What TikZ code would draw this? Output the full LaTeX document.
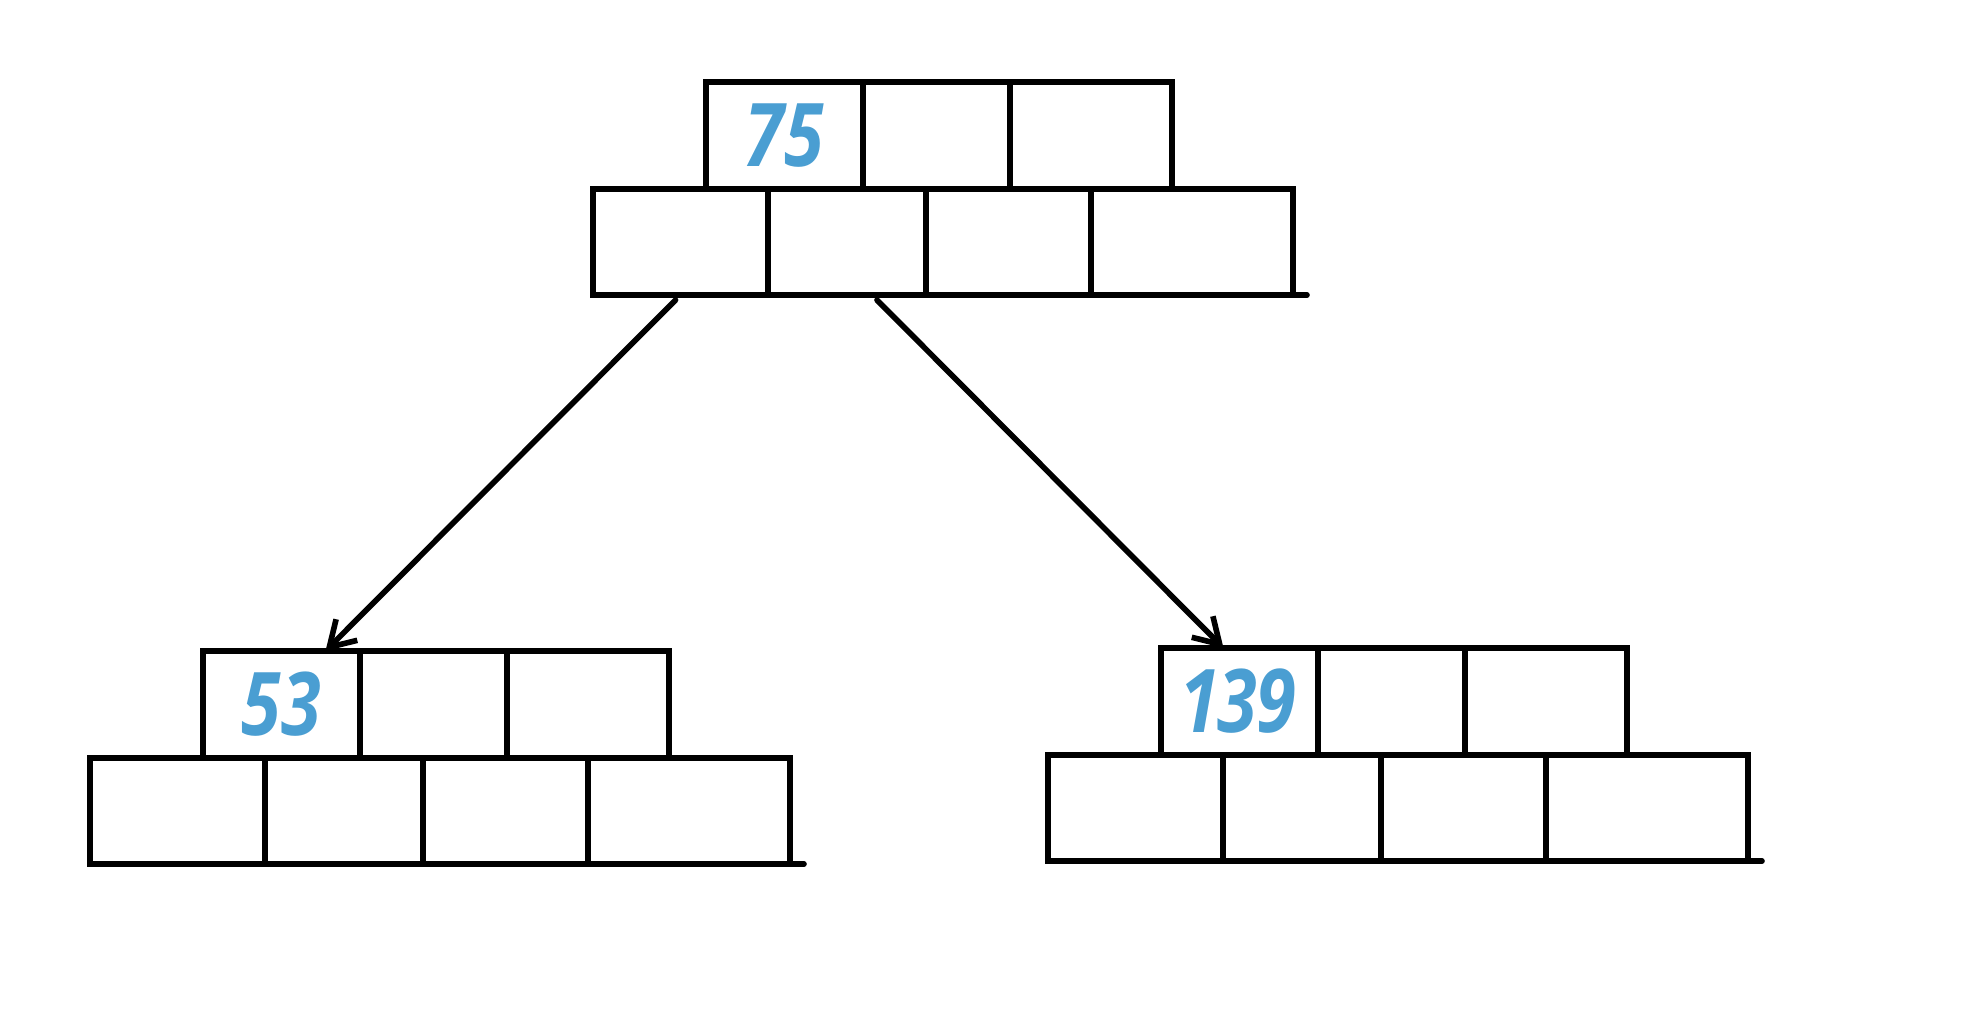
\documentclass[tikz,border=0pt]{standalone}
\usepackage{fontspec}
\setmainfont[Numbers=Proportional]{Open Sans}
\usetikzlibrary{positioning, arrows.meta}
\definecolor{keyblue}{RGB}{74,158,210}
\newcommand{\handnum}[1]{\scalebox{0.82}[1]{#1}}

\begin{document}
\begin{tikzpicture}[>={Straight Barb[length=7pt,width=8.5pt]}, line width=1.6pt, line cap=round, node distance=0pt,
    cell/.style={draw, rectangle, inner sep=0pt, outer sep=0pt, text=keyblue,
        font=\bfseries\itshape\fontsize{25}{25}\selectfont},
    key/.style={cell, minimum height=1.07cm},
    ptr/.style={cell, minimum height=1.06cm}]
    \useasboundingbox (0,0) rectangle (19.84,-10.32);

    % root
    \node[ptr, minimum width=1.75cm, anchor=north west] (rp1) at (5.93,-1.89) {};
    \node[ptr, minimum width=1.58cm, right=of rp1] (rp2) {};
    \node[ptr, minimum width=1.65cm, right=of rp2] (rp3) {};
    \node[ptr, minimum width=2.02cm, right=of rp3] (rp4) {};
    \node[key, minimum width=1.57cm, anchor=south west] (r1) at ([xshift=1.13cm]rp1.north west) {\handnum{75}};
    \node[key, minimum width=1.47cm, right=of r1] (r2) {};
    \node[key, minimum width=1.62cm, right=of r2] (r3) {};
    \draw (rp1.south west) -- ([xshift=0.14cm]rp4.south east);

    % left child
    \node[ptr, minimum width=1.75cm, anchor=north west] (ap1) at (0.90,-7.58) {};
    \node[ptr, minimum width=1.58cm, right=of ap1] (ap2) {};
    \node[ptr, minimum width=1.65cm, right=of ap2] (ap3) {};
    \node[ptr, minimum width=2.02cm, right=of ap3] (ap4) {};
    \node[key, minimum width=1.57cm, anchor=south west] (a1) at ([xshift=1.13cm]ap1.north west) {\handnum{53}};
    \node[key, minimum width=1.47cm, right=of a1] (a2) {};
    \node[key, minimum width=1.62cm, right=of a2] (a3) {};
    \draw (ap1.south west) -- ([xshift=0.14cm]ap4.south east);

    % right child
    \node[ptr, minimum width=1.75cm, anchor=north west] (bp1) at (10.48,-7.55) {};
    \node[ptr, minimum width=1.58cm, right=of bp1] (bp2) {};
    \node[ptr, minimum width=1.65cm, right=of bp2] (bp3) {};
    \node[ptr, minimum width=2.02cm, right=of bp3] (bp4) {};
    \node[key, minimum width=1.57cm, anchor=south west] (b1) at ([xshift=1.13cm]bp1.north west) {\handnum{139}};
    \node[key, minimum width=1.47cm, right=of b1] (b2) {};
    \node[key, minimum width=1.62cm, right=of b2] (b3) {};
    \draw (bp1.south west) -- ([xshift=0.14cm]bp4.south east);

    \draw[->, shorten <=2pt] (rp1.south) -- ([xshift=0.44cm]a1.north);
    \draw[->, shorten <=2pt] ([xshift=0.25cm]rp2.south) -- ([xshift=-0.16cm]b1.north);
\end{tikzpicture}
\end{document}
